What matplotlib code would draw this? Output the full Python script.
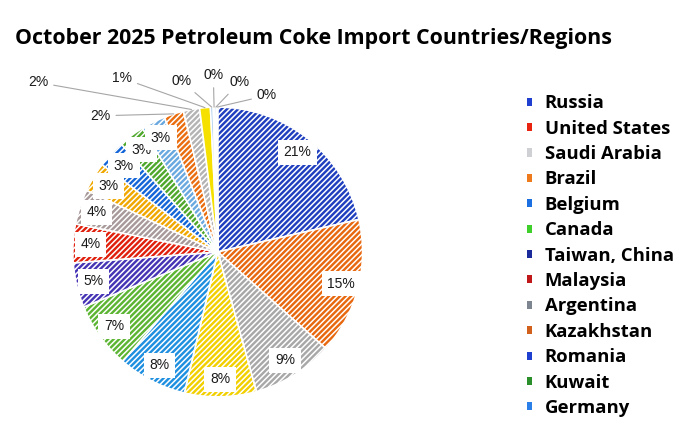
import matplotlib
matplotlib.use('Agg')
import matplotlib.pyplot as plt
import numpy as np
from matplotlib.patches import Patch

plt.rcParams['hatch.linewidth'] = 1.1

# slice shares (%) clockwise from the top
shares = [21.4, 15.2, 9.1, 8.0, 7.7, 7.4, 5.0, 4.3, 3.9, 3.3,
          3.1, 2.9, 2.7, 2.2, 1.8, 1.2, 0.3, 0.2, 0.2, 0.1]
slice_colors = ['#1f3fbf', '#e8680f', '#a8a8a8', '#f2d000', '#1f8fe0',
                '#5cb532', '#4535b5', '#e01f0c', '#a89a9a', '#f0a800',
                '#1466d8', '#4fa82c', '#6aa8e0', '#ea6e10', '#b4b4b4',
                '#f5e000', '#9cc3ea', '#bfbfbf', '#6fa8dc', '#d0d0d0']

# legend (only the first 13 entries are shown in the original)
countries = ['Russia', 'United States', 'Saudi Arabia', 'Brazil', 'Belgium',
             'Canada', 'Taiwan, China', 'Malaysia', 'Argentina', 'Kazakhstan',
             'Romania', 'Kuwait', 'Germany']
legend_colors = ['#1f3fd0', '#e8230f', '#cfd0d4', '#ee7a1c', '#1c6fe0',
                 '#3fcf2a', '#1a2a9a', '#c01818', '#7d8590', '#d0601c',
                 '#1f3fd0', '#2a8f2a', '#2a7fe8']

title = 'October 2025 Petroleum Coke Import Countries/Regions'

# outside label spots for the small slices (in pie radius units)
outside_pos = {13: (-0.81, 0.94), 14: (-1.24, 1.17), 15: (-0.66, 1.20),
               16: (-0.25, 1.18), 17: (-0.03, 1.22), 18: (0.15, 1.17),
               19: (0.34, 1.08)}

fig = plt.figure(figsize=(7, 4.44), dpi=100)
ax = fig.add_axes([0.104, 0.106, 0.414, 0.653])

wedges, _ = ax.pie(shares, colors=slice_colors, startangle=90,
                   counterclock=False, radius=1.0,
                   wedgeprops=dict(edgecolor='white', linewidth=1.2))
for i, w in enumerate(wedges):
    if i < 15:
        w.set_hatch('//////')
ax.set_xlim(-1, 1)
ax.set_ylim(-1, 1)
ax.set_aspect('equal')

box = dict(boxstyle='square,pad=0.4', facecolor='white', edgecolor='none')
total = sum(shares)
for i, w in enumerate(wedges):
    ang = np.deg2rad((w.theta1 + w.theta2) / 2)
    lab = '%d%%' % round(shares[i] / total * 100)
    if i in outside_pos:
        tx, ty = outside_pos[i]
        ax.annotate(lab, xy=(np.cos(ang), np.sin(ang)), xytext=(tx, ty),
                    ha='center', va='center', fontsize=10,
                    family='Liberation Sans', color='#1a1a1a',
                    arrowprops=dict(arrowstyle='-', color='#a6a6a6', lw=0.8,
                                    shrinkA=2, shrinkB=0),
                    annotation_clip=False)
    else:
        r = 0.88
        ax.text(r * np.cos(ang), r * np.sin(ang), lab, ha='center', va='center',
                fontsize=10, family='Liberation Sans', color='#1a1a1a', bbox=box)

fig.text(0.021, 0.901, title, fontsize=15.4, fontweight='bold',
         family='Open Sans', va='baseline', ha='left')

handles = [Patch(facecolor=c, edgecolor='none') for c in legend_colors]
fig.legend(handles, countries, loc='upper left', bbox_to_anchor=(0.729, 0.825),
           frameon=False, handlelength=0.3, handleheight=0.3,
           handletextpad=0.66, labelspacing=0.40,
           prop=dict(family='Open Sans', weight='bold', size=13.3))

fig.savefig('out.png', dpi=100)
